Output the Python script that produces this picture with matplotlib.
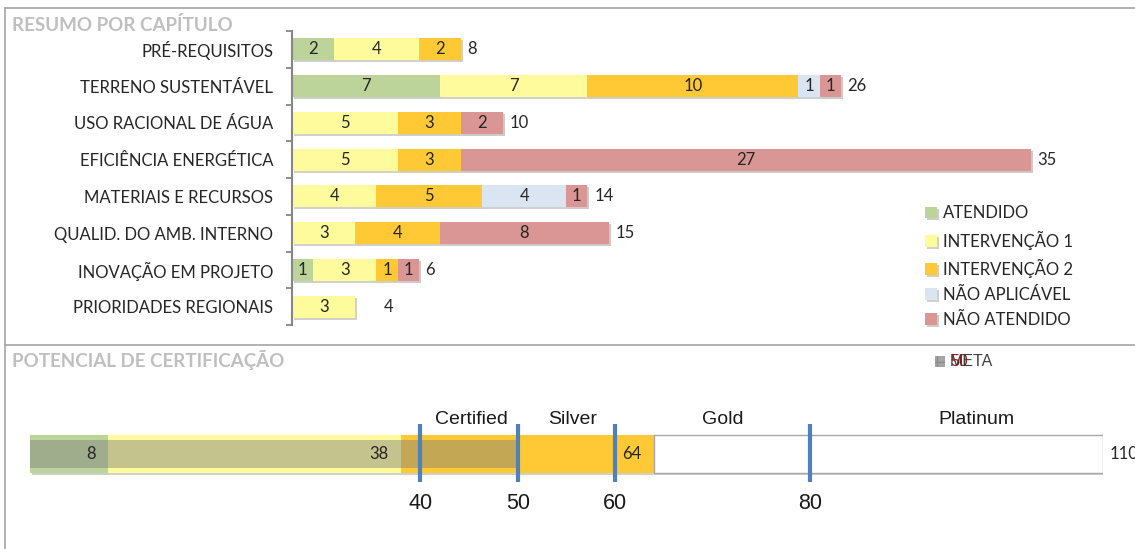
import matplotlib.pyplot as plt
from matplotlib import patheffects as pe
from matplotlib.lines import Line2D
from matplotlib.patches import Rectangle
import numpy as np

plt.rcParams['font.family'] = ['Lato', 'DejaVu Sans']

# data - summary per chapter
categories = ['PRÉ-REQUISITOS', 'TERRENO SUSTENTÁVEL', 'USO RACIONAL DE ÁGUA',
              'EFICIÊNCIA ENERGÉTICA', 'MATERIAIS E RECURSOS',
              'QUALID. DO AMB. INTERNO', 'INOVAÇÃO EM PROJETO', 'PRIORIDADES REGIONAIS']
atendido = [2, 7, 0, 0, 0, 0, 1, 0]
intervencao1 = [4, 7, 5, 5, 4, 3, 3, 3]
intervencao2 = [2, 10, 3, 3, 5, 4, 1, 0]
nao_aplicavel = [0, 1, 0, 0, 4, 0, 0, 0]
nao_atendido = [0, 1, 2, 27, 1, 8, 1, 0]
totals = [8, 26, 10, 35, 14, 15, 6, 4]

series_names = ['ATENDIDO', 'INTERVENÇÃO 1', 'INTERVENÇÃO 2', 'NÃO APLICÁVEL', 'NÃO ATENDIDO']
series_colors = ['#bcd39a', '#fdfb9c', '#fec934', '#dbe5f1', '#d99694']

# data - certification potential
cert_segments = [8, 30, 26, 46]      # atendido, interv 1, interv 2, remaining
cert_colors = ['#bcd39a', '#fdfb9c', '#fec934', 'white']
cert_labels = [8, 38, 64]
max_points = 110
meta = 50
thresholds = [40, 50, 60, 80]
levels = ['Certified', 'Silver', 'Gold', 'Platinum']
level_pos = [45.3, 55.6, 71, 97]

W, H = 1135, 549


def box(l, t, r, b):
    return [l / W, 1 - b / H, (r - l) / W, (b - t) / H]


fig = plt.figure(figsize=(W / 100, H / 100), dpi=100)
shadow = [pe.SimplePatchShadow(offset=(1.5, -1.5), alpha=0.25), pe.Normal()]

# frame lines
grey = '#a6a6a6'
fig.add_artist(Line2D([5 / W, 1], [1 - 8 / H, 1 - 8 / H], color=grey, lw=1.2))
fig.add_artist(Line2D([5 / W, 5 / W], [0, 1 - 8 / H], color=grey, lw=1.2))
fig.add_artist(Line2D([5 / W, 1], [1 - 345 / H, 1 - 345 / H], color=grey, lw=1.2))

fig.text(12 / W, 1 - 25 / H, 'RESUMO POR CAPÍTULO', fontsize=13.5, weight='bold',
         color='#bfbfbf', va='center')
fig.text(12 / W, 1 - 360 / H, 'POTENCIAL DE CERTIFICAÇÃO', fontsize=13.5, weight='bold',
         color='#bfbfbf', va='center')

# ---- top chart
scale = 21.1
ax1 = fig.add_axes(box(292, 31, 292 + 39 * scale, 325))
y = np.arange(len(categories))
left = np.zeros(len(categories))
handles = []
for name, vals, col in zip(series_names,
                           [atendido, intervencao1, intervencao2, nao_aplicavel, nao_atendido],
                           series_colors):
    vals = np.array(vals)
    bars = ax1.barh(y, vals, left=left, height=0.6, color=col, label=name)
    for b, v in zip(bars, vals):
        b.set_path_effects(shadow)
        if v > 0:
            ax1.text(b.get_x() + v / 2, b.get_y() + b.get_height() / 2, str(v),
                     ha='center', va='center', fontsize=12, color='#262626')
    handles.append(bars)
    left += vals

for yi, t in zip(y, totals):
    ax1.annotate(str(t), (t, yi), xytext=(5, 0), textcoords='offset points',
                 ha='left', va='center', fontsize=12, color='#262626')

ax1.set_xlim(0, 39)
ax1.set_ylim(len(categories) - 0.5, -0.5)
for s in ['top', 'right', 'bottom']:
    ax1.spines[s].set_visible(False)
ax1.spines['left'].set_color('#868686')
ax1.spines['left'].set_linewidth(1.5)
ax1.set_xticks([])
ax1.set_yticks(y)
ax1.set_yticklabels(categories, fontsize=12, color='#262626')
ax1.tick_params(axis='y', which='major', length=0, pad=13.5)
ax1.set_yticks(np.arange(-0.5, len(categories)), minor=True)
ax1.tick_params(axis='y', which='minor', length=4.5, width=1.3, color='#868686')

fig.legend(handles, series_names, loc='upper left', bbox_to_anchor=(917 / W, 1 - 197 / H),
           frameon=False, fontsize=12, handlelength=0.7, handleheight=0.7,
           handletextpad=0.35, labelspacing=0.55, borderpad=0, labelcolor='#262626')

# ---- bottom chart
ax2 = fig.add_axes(box(30, 404, 30 + 1073, 490))
start = 0
for seg, col in zip(cert_segments, cert_colors):
    b = ax2.barh(0, seg, left=start, height=38, color=col,
                 edgecolor=grey if col == 'white' else 'none', lw=1)
    b[0].set_path_effects(shadow)
    start += seg
ax2.barh(0, meta, height=28, color='#7f7f7f', alpha=0.45)
ax2.vlines(thresholds, -28, 30, color='#4f81bd', lw=3)

for v in cert_labels:
    ax2.annotate(str(v), (v, 0), xytext=(-9, 0), textcoords='offset points',
                 ha='right', va='center', fontsize=12, color='#262626')
ax2.annotate(str(max_points), (max_points, 0), xytext=(4.5, 0), textcoords='offset points',
             ha='left', va='center', fontsize=12, color='#262626', annotation_clip=False)

for lab, x in zip(levels, level_pos):
    ax2.text(x, 34, lab, ha='center', va='center', fontsize=14,
             family='Liberation Sans', color='#1a1a1a')

ax2.set_xlim(0, max_points)
ax2.set_ylim(-36, 50)
for s in ax2.spines.values():
    s.set_visible(False)
ax2.set_yticks([])
ax2.set_xticks(thresholds)
ax2.set_xticklabels([str(t) for t in thresholds], fontsize=15.5, family='Liberation Sans',
                    color='#1a1a1a')
ax2.tick_params(axis='x', length=0, pad=2)

# META legend (overlapping labels as in the source)
fig.add_artist(Rectangle((935 / W, 1 - 366 / H), 9 / W, 10 / H, facecolor='#a6a6a6',
                         edgecolor='#8c8c8c', hatch='++', lw=0.5))
fig.text(950 / W, 1 - 361 / H, 'META', fontsize=11.5, family='Liberation Sans',
         color='#404040', va='center')
fig.text(950 / W, 1 - 361 / H, '50', fontsize=11.5, family='Liberation Sans',
         color='#7f2020', va='center')

plt.savefig('out.png', dpi=100)
